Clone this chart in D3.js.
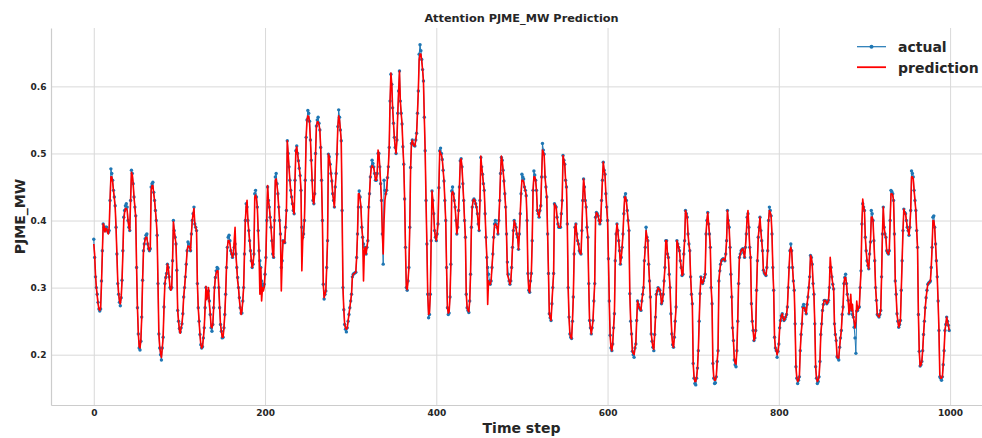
<!DOCTYPE html>
<html>
<head>
<meta charset="utf-8">
<script src="https://cdnjs.cloudflare.com/ajax/libs/d3/7.8.5/d3.min.js"></script>
<style>
  body { margin: 0; background: #fff; }
  svg text { font-family: "DejaVu Sans", sans-serif; fill: #262626; font-weight: bold; }
</style>
</head>
<body>
<div class="graph"></div>
<script>
// Valores (un valor por paso de tiempo)
const actual = [
  .372,.345,.316,.30,.29,.278,.268,.265,.268,.31,.355,.395,.39,.385,.39,.39,.385,.382,.385,.43,
  .477,.47,.46,.445,.435,.422,.39,.35,.306,.29,.278,.273,.285,.311,.355,.405,.415,.422,.425,.42,
  .40,.39,.385,.43,.475,.47,.455,.435,.42,.407,.33,.27,.231,.21,.207,.22,.256,.311,.355,.365,
  .373,.378,.38,.365,.358,.355,.358,.45,.455,.457,.442,.43,.415,.40,.378,.306,.231,.21,.20,.192,
  .21,.226,.271,.306,.315,.321,.335,.33,.316,.30,.298,.30,.34,.40,.385,.375,.365,.326,.266,.25,
  .239,.234,.24,.246,.261,.286,.30,.316,.335,.355,.368,.365,.36,.355,.38,.40,.41,.42,.395,.39,
  .385,.306,.27,.25,.23,.215,.21,.212,.225,.24,.27,.30,.29,.285,.295,.28,.26,.24,.235,.245,
  .27,.30,.315,.325,.33,.328,.30,.27,.245,.235,.225,.226,.24,.26,.29,.33,.36,.375,.378,.37,
  .355,.35,.345,.35,.36,.365,.35,.33,.315,.30,.285,.27,.262,.262,.28,.30,.35,.40,.425,.42,
  .40,.385,.37,.355,.34,.33,.335,.35,.44,.445,.435,.42,.385,.355,.34,.33,.31,.305,.302,.305,
  .32,.345,.40,.45,.43,.42,.405,.39,.37,.35,.345,.40,.465,.47,.455,.44,.42,.40,.38,.33,
  .34,.37,.368,.367,.39,.415,.519,.50,.48,.46,.445,.435,.425,.415,.41,.46,.504,.511,.50,.489,
  .478,.467,.445,.39,.375,.38,.40,.46,.524,.55,.564,.56,.548,.52,.49,.46,.43,.425,.44,.50,
  .541,.55,.554,.545,.535,.509,.46,.40,.305,.283,.29,.295,.33,.37,.499,.495,.484,.47,.459,.44,
  .43,.42,.45,.47,.499,.54,.565,.554,.535,.519,.415,.30,.267,.245,.238,.234,.24,.25,.26,.27,
  .28,.29,.316,.32,.321,.322,.323,.345,.38,.42,.444,.435,.42,.39,.375,.365,.36,.36,.35,.36,
  .37,.42,.44,.465,.48,.49,.485,.48,.47,.46,.46,.47,.50,.50,.48,.455,.43,.38,.335,.46,
  .445,.44,.445,.464,.48,.509,.578,.618,.603,.568,.545,.524,.509,.50,.52,.56,.593,.623,.578,.56,
  .544,.51,.484,.432,.36,.30,.296,.31,.33,.39,.479,.515,.52,.514,.512,.511,.52,.53,.56,.593,
  .648,.662,.653,.64,.625,.608,.554,.504,.43,.365,.29,.255,.26,.29,.37,.444,.43,.41,.385,.375,
  .37,.38,.395,.449,.504,.508,.50,.491,.475,.459,.43,.40,.33,.27,.26,.262,.286,.335,.444,.45,
  .44,.43,.42,.40,.38,.39,.415,.45,.489,.492,.48,.455,.43,.40,.375,.29,.27,.266,.263,.28,
  .32,.39,.42,.43,.432,.43,.425,.42,.41,.395,.385,.43,.494,.48,.469,.455,.445,.41,.375,.345,
  .33,.32,.31,.305,.31,.33,.35,.375,.395,.40,.395,.39,.38,.40,.43,.47,.494,.49,.475,.459,
  .44,.42,.38,.338,.32,.31,.305,.31,.33,.36,.385,.40,.395,.39,.38,.375,.357,.38,.41,.44,
  .469,.465,.462,.45,.445,.437,.40,.321,.296,.293,.31,.321,.37,.445,.474,.468,.46,.445,.415,.41,
  .405,.415,.422,.465,.515,.505,.499,.465,.45,.435,.38,.321,.261,.255,.251,.276,.30,.321,.425,.422,
  .42,.405,.395,.39,.39,.39,.41,.43,.497,.49,.484,.46,.45,.395,.30,.256,.231,.226,.224,.25,
  .286,.35,.39,.395,.38,.37,.365,.355,.352,.35,.385,.43,.462,.45,.43,.42,.39,.375,.306,.251,
  .24,.231,.24,.251,.28,.306,.405,.412,.41,.407,.40,.395,.40,.43,.46,.487,.475,.469,.44,.42,
  .40,.343,.28,.229,.21,.206,.216,.24,.261,.34,.38,.395,.385,.37,.355,.335,.345,.36,.38,.41,
  .435,.44,.43,.415,.40,.385,.291,.25,.231,.205,.20,.196,.21,.216,.251,.28,.275,.27,.268,.266,
  .28,.29,.30,.34,.36,.39,.375,.37,.335,.31,.286,.231,.22,.211,.206,.23,.256,.29,.295,.30,
  .298,.296,.29,.276,.28,.29,.31,.33,.37,.37,.35,.345,.32,.30,.261,.231,.215,.211,.226,.25,
  .271,.37,.365,.36,.355,.34,.33,.318,.32,.35,.37,.415,.41,.405,.38,.365,.355,.316,.29,.276,
  .187,.165,.157,.155,.165,.18,.206,.25,.291,.316,.31,.306,.31,.315,.32,.38,.40,.412,.395,.38,
  .36,.30,.276,.187,.165,.157,.158,.167,.19,.206,.31,.325,.335,.34,.342,.343,.342,.34,.35,.37,
  .415,.40,.39,.36,.32,.286,.24,.221,.192,.185,.182,.206,.25,.306,.345,.35,.355,.357,.358,.352,
  .345,.36,.38,.405,.41,.39,.36,.345,.276,.25,.236,.221,.225,.236,.296,.34,.375,.39,.405,.385,
  .37,.355,.326,.322,.32,.318,.33,.355,.40,.42,.415,.407,.38,.33,.296,.226,.21,.206,.196,.205,
  .216,.24,.251,.258,.261,.255,.251,.253,.256,.26,.271,.30,.33,.355,.365,.355,.33,.31,.296,.246,
  .182,.165,.157,.162,.167,.206,.23,.246,.271,.275,.27,.266,.261,.275,.286,.30,.316,.348,.345,.335,
  .306,.29,.246,.182,.165,.157,.16,.167,.19,.23,.246,.266,.275,.281,.281,.28,.276,.278,.281,.30,
  .33,.33,.316,.305,.298,.246,.23,.221,.197,.195,.192,.211,.225,.236,.26,.271,.306,.315,.32,.306,
  .29,.281,.261,.27,.275,.266,.26,.256,.241,.225,.202,.265,.266,.27,.271,.30,.325,.395,.425,.42,
  .415,.375,.355,.34,.333,.328,.35,.368,.415,.41,.40,.37,.34,.30,.281,.26,.258,.256,.26,.266,
  .316,.38,.42,.39,.38,.375,.355,.352,.35,.355,.40,.445,.443,.44,.43,.38,.31,.29,.261,.25,
  .241,.245,.251,.296,.34,.385,.417,.412,.41,.40,.39,.385,.378,.39,.415,.474,.47,.465,.445,.43,
  .415,.385,.36,.26,.205,.183,.185,.19,.206,.23,.25,.27,.285,.296,.305,.307,.308,.31,.33,.36,
  .405,.407,.39,.365,.34,.316,.28,.236,.167,.165,.162,.167,.185,.206,.236,.245,.256,.25,.244,.236
];

const prediction = [
  .365,.35,.32,.30,.288,.276,.268,.266,.27,.305,.35,.395,.392,.383,.388,.388,.383,.38,.39,.43,
  .465,.465,.458,.445,.433,.42,.39,.35,.31,.292,.28,.276,.285,.31,.352,.40,.412,.418,.418,.415,
  .40,.39,.385,.43,.472,.468,.455,.435,.42,.405,.33,.27,.233,.212,.21,.222,.256,.31,.352,.365,
  .372,.375,.375,.365,.358,.355,.36,.445,.452,.452,.44,.43,.415,.40,.378,.306,.232,.212,.202,.196,
  .21,.226,.27,.305,.315,.321,.335,.33,.316,.30,.296,.30,.34,.398,.385,.375,.365,.325,.266,.25,
  .236,.232,.24,.246,.261,.286,.30,.316,.335,.355,.362,.362,.36,.355,.38,.40,.41,.418,.395,.39,
  .385,.306,.27,.25,.23,.215,.21,.212,.225,.24,.27,.302,.282,.292,.30,.275,.262,.242,.24,.245,
  .27,.30,.315,.322,.325,.325,.30,.27,.245,.235,.226,.226,.24,.26,.29,.33,.36,.37,.37,.365,
  .355,.35,.345,.35,.37,.39,.35,.33,.31,.30,.282,.27,.26,.265,.28,.30,.35,.40,.42,.43,
  .40,.385,.37,.355,.34,.33,.335,.35,.435,.438,.433,.42,.385,.35,.29,.33,.28,.30,.295,.30,
  .32,.345,.40,.452,.43,.42,.405,.39,.37,.35,.345,.40,.46,.462,.452,.44,.42,.40,.38,.295,
  .34,.37,.368,.367,.39,.415,.519,.50,.48,.46,.445,.435,.425,.415,.41,.46,.504,.51,.50,.489,
  .478,.467,.445,.325,.37,.38,.40,.46,.524,.55,.556,.555,.545,.52,.49,.46,.43,.425,.44,.50,
  .54,.547,.547,.543,.535,.509,.46,.40,.305,.285,.29,.295,.33,.37,.499,.495,.484,.47,.459,.44,
  .43,.42,.45,.47,.499,.54,.556,.55,.535,.519,.415,.30,.267,.245,.24,.238,.24,.25,.26,.27,
  .28,.29,.316,.32,.321,.322,.323,.345,.38,.44,.44,.432,.42,.39,.375,.31,.355,.36,.35,.36,
  .37,.42,.44,.465,.478,.482,.48,.478,.47,.46,.46,.47,.505,.50,.48,.455,.43,.38,.35,.40,
  .43,.44,.445,.464,.48,.509,.578,.62,.603,.568,.545,.524,.509,.50,.52,.56,.593,.623,.578,.56,
  .544,.51,.484,.432,.36,.30,.297,.31,.33,.39,.479,.515,.52,.514,.512,.511,.52,.53,.56,.593,
  .64,.648,.648,.638,.625,.608,.554,.504,.43,.365,.29,.26,.262,.29,.37,.444,.43,.41,.385,.375,
  .37,.38,.395,.449,.504,.50,.498,.491,.475,.459,.43,.40,.33,.27,.262,.264,.286,.335,.44,.443,
  .44,.43,.42,.40,.38,.39,.415,.45,.489,.492,.48,.455,.43,.40,.375,.29,.27,.266,.264,.28,
  .32,.39,.42,.43,.432,.43,.425,.42,.41,.395,.385,.43,.496,.48,.469,.455,.445,.41,.375,.345,
  .275,.31,.305,.305,.31,.33,.35,.375,.393,.395,.393,.39,.38,.40,.43,.47,.496,.49,.475,.459,
  .44,.42,.38,.32,.315,.31,.305,.31,.33,.36,.385,.40,.395,.39,.38,.375,.357,.38,.41,.44,
  .46,.46,.458,.45,.445,.437,.40,.321,.296,.293,.31,.321,.37,.445,.465,.465,.46,.445,.415,.41,
  .405,.415,.422,.465,.505,.502,.497,.465,.45,.435,.38,.321,.261,.255,.251,.276,.30,.321,.425,.422,
  .42,.405,.395,.39,.39,.39,.41,.43,.497,.49,.484,.46,.45,.395,.30,.256,.231,.226,.224,.25,
  .286,.35,.39,.395,.38,.37,.365,.355,.352,.35,.385,.43,.462,.45,.43,.42,.39,.375,.306,.251,
  .24,.231,.24,.251,.28,.306,.405,.412,.41,.407,.40,.395,.40,.43,.46,.487,.475,.469,.44,.42,
  .40,.343,.28,.229,.21,.206,.216,.24,.261,.34,.38,.395,.385,.37,.355,.335,.345,.36,.38,.41,
  .435,.435,.428,.415,.40,.385,.291,.25,.231,.205,.202,.20,.21,.216,.251,.28,.275,.27,.268,.266,
  .28,.29,.30,.34,.36,.385,.375,.37,.335,.31,.286,.231,.22,.211,.208,.23,.256,.29,.295,.30,
  .298,.296,.29,.276,.28,.29,.31,.33,.37,.37,.35,.345,.32,.30,.261,.231,.215,.211,.226,.25,
  .271,.37,.365,.36,.355,.34,.33,.318,.32,.35,.37,.415,.41,.405,.38,.365,.355,.316,.29,.276,
  .187,.167,.16,.16,.167,.18,.206,.25,.291,.316,.31,.306,.31,.315,.32,.38,.40,.412,.395,.38,
  .36,.30,.276,.187,.167,.162,.162,.168,.19,.206,.31,.325,.335,.34,.342,.343,.342,.34,.35,.37,
  .415,.40,.39,.36,.32,.286,.24,.221,.195,.188,.186,.206,.25,.306,.345,.35,.355,.357,.358,.352,
  .345,.36,.38,.405,.415,.39,.36,.345,.276,.25,.236,.221,.225,.236,.296,.34,.375,.39,.405,.385,
  .37,.355,.326,.322,.32,.318,.33,.355,.40,.415,.412,.407,.38,.33,.296,.226,.21,.206,.20,.205,
  .216,.24,.251,.258,.261,.255,.251,.253,.256,.26,.271,.30,.33,.355,.36,.355,.33,.31,.296,.246,
  .182,.165,.16,.162,.167,.206,.23,.246,.27,.27,.27,.266,.261,.275,.286,.30,.316,.348,.345,.335,
  .306,.29,.246,.182,.165,.16,.162,.167,.19,.23,.246,.266,.275,.281,.281,.28,.276,.278,.281,.30,
  .345,.33,.316,.305,.298,.246,.23,.221,.197,.195,.195,.211,.225,.236,.26,.271,.306,.315,.315,.306,
  .29,.281,.261,.27,.29,.266,.275,.256,.25,.24,.25,.28,.266,.27,.271,.30,.325,.395,.432,.42,
  .415,.375,.355,.34,.333,.328,.35,.368,.405,.405,.40,.37,.34,.30,.281,.26,.258,.256,.26,.266,
  .316,.38,.42,.39,.38,.375,.355,.352,.35,.355,.40,.44,.44,.438,.43,.38,.31,.29,.261,.25,
  .241,.245,.251,.296,.34,.385,.417,.412,.41,.40,.39,.385,.378,.39,.415,.465,.465,.462,.445,.43,
  .415,.385,.36,.26,.205,.183,.185,.19,.206,.23,.25,.27,.285,.296,.305,.307,.308,.31,.33,.36,
  .40,.40,.39,.365,.34,.316,.28,.236,.17,.165,.165,.167,.185,.206,.236,.245,.256,.25,.244,.236
];

// Marcas de los ejes y textos
const xTicks = [0, 200, 400, 600, 800, 1000];
const yTicks = [0.2, 0.3, 0.4, 0.5, 0.6];
const chartTitle = "Attention PJME_MW Prediction";
const xLabel = "Time step";
const yLabel = "PJME_MW";
const seriesNames = ["actual", "prediction"];

// Configuración del tamaño del gráfico
const width = 982;
const height = 438;
const plot = { left: 51, right: 992, top: 28, bottom: 405 };

const svg = d3
    .select(".graph")
    .append("svg")
    .attr("width", width)
    .attr("height", height);

// Escalas
const xScale = d3.scaleLinear().domain([-49.95, 1048.95]).range([plot.left, plot.right]);
const yScale = d3.scaleLinear().domain([0.125, 0.687]).range([plot.bottom, plot.top]);

// Rejilla
svg.append("g")
    .attr("transform", `translate(0, ${plot.bottom})`)
    .call(d3.axisBottom(xScale).tickValues(xTicks).tickSize(-(plot.bottom - plot.top)).tickFormat(""))
    .call(g => g.select(".domain").remove())
    .call(g => g.selectAll("line").attr("stroke", "#d9d9d9").attr("stroke-width", 1));

svg.append("g")
    .attr("transform", `translate(${plot.left}, 0)`)
    .call(d3.axisLeft(yScale).tickValues(yTicks).tickSize(-(plot.right - plot.left)).tickFormat(""))
    .call(g => g.select(".domain").remove())
    .call(g => g.selectAll("line").attr("stroke", "#d9d9d9").attr("stroke-width", 1));

// Ejes (solo izquierda y abajo, gris claro)
svg.append("g")
    .attr("transform", `translate(0, ${plot.bottom})`)
    .call(d3.axisBottom(xScale).tickValues(xTicks).tickSize(0).tickPadding(4.5).tickFormat(d3.format("d")))
    .call(g => g.select(".domain").attr("stroke", "#cccccc").attr("stroke-width", 1.2))
    .call(g => g.selectAll("text").style("font-size", "9px"));

svg.append("g")
    .attr("transform", `translate(${plot.left}, 0)`)
    .call(d3.axisLeft(yScale).tickValues(yTicks).tickSize(0).tickPadding(4.5).tickFormat(d3.format(".1f")))
    .call(g => g.select(".domain").attr("stroke", "#cccccc").attr("stroke-width", 1.2))
    .call(g => g.selectAll("text").style("font-size", "9px"));

// Series
const line = d3.line()
    .x((d, i) => xScale(i))
    .y(d => yScale(d));

svg.append("path")
    .datum(actual)
    .attr("fill", "none")
    .attr("stroke", "#1f77b4")
    .attr("stroke-width", 1)
    .attr("d", line);

svg.append("g")
    .selectAll("circle")
    .data(actual)
    .join("circle")
    .attr("cx", (d, i) => xScale(i))
    .attr("cy", d => yScale(d))
    .attr("r", 1.7)
    .attr("fill", "#1f77b4");

svg.append("path")
    .datum(prediction)
    .attr("fill", "none")
    .attr("stroke", "#ff0000")
    .attr("stroke-width", 1.6)
    .attr("stroke-linejoin", "round")
    .attr("d", line);

// Título y etiquetas
svg.append("text")
    .attr("x", 521.5)
    .attr("y", 22)
    .attr("text-anchor", "middle")
    .style("font-size", "11.3px")
    .text(chartTitle);

svg.append("text")
    .attr("x", 521.5)
    .attr("y", 432.5)
    .attr("text-anchor", "middle")
    .style("font-size", "14px")
    .text(xLabel);

svg.append("text")
    .attr("transform", "translate(24.5, 216.5) rotate(-90)")
    .attr("text-anchor", "middle")
    .style("font-size", "14px")
    .text(yLabel);

// Leyenda
const legend = svg.append("g").attr("transform", "translate(857, 46.7)");

legend.append("line")
    .attr("x1", 0).attr("x2", 29).attr("y1", 0).attr("y2", 0)
    .attr("stroke", "#1f77b4").attr("stroke-width", 1.2);
legend.append("circle")
    .attr("cx", 14.5).attr("cy", 0).attr("r", 2)
    .attr("fill", "#1f77b4");
legend.append("line")
    .attr("x1", 0).attr("x2", 29).attr("y1", 20.5).attr("y2", 20.5)
    .attr("stroke", "#ff0000").attr("stroke-width", 1.8);

legend.selectAll("text.label")
    .data(seriesNames)
    .join("text")
    .attr("class", "label")
    .attr("x", 41)
    .attr("y", (d, i) => 5 + i * 21)
    .style("font-size", "14px")
    .text(d => d);
</script>
</body>
</html>
